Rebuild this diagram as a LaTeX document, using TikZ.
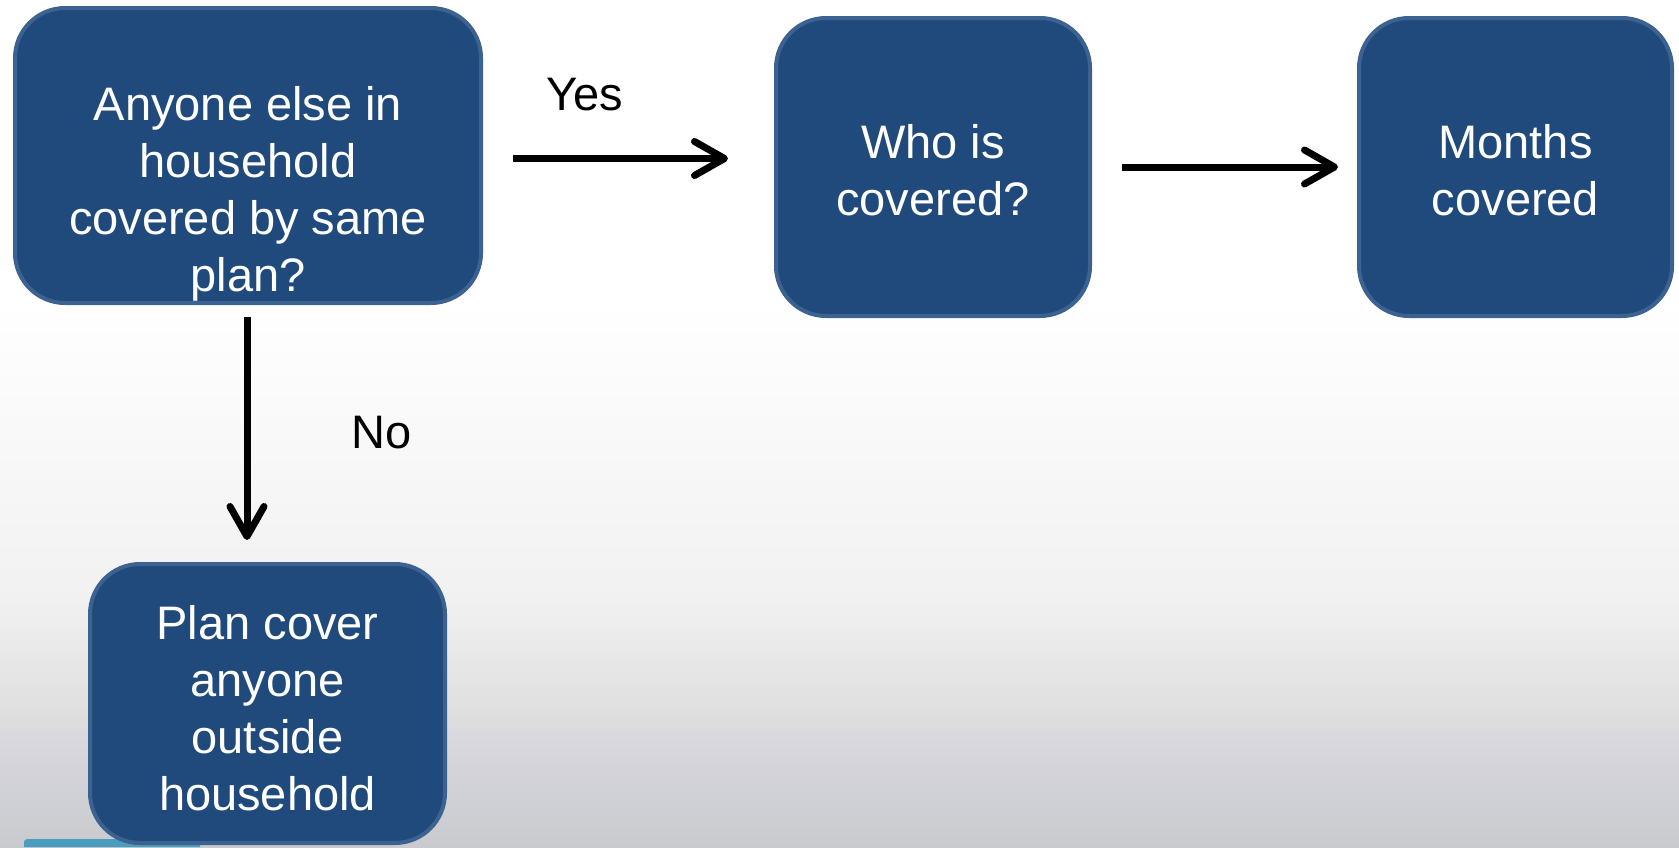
\documentclass[tikz,border=0pt]{standalone}
\usepackage{fontspec}
\setmainfont{Liberation Sans}
\usetikzlibrary{arrows.meta}
\definecolor{boxfill}{HTML}{214A7C}
\definecolor{boxline}{HTML}{3C6291}
\definecolor{bgA}{HTML}{F1F1F1}
\definecolor{bgB}{HTML}{DCDCDC}
\definecolor{bgC}{HTML}{D9D9DF}
\definecolor{bgD}{HTML}{C9CACE}
\definecolor{teal}{HTML}{4B9DBD}
\tikzset{
  flowbox/.style={draw=boxline, fill=boxfill, line width=4pt, rounded corners=50pt,
    inner sep=0pt},
  boxtext/.style={text=white, font=\fontsize{47}{57}\selectfont, align=center, inner sep=0pt},
  lbl/.style={text=black, font=\fontsize{47}{57}\selectfont, inner sep=0pt, anchor=base},
  arr/.style={line width=7pt, -{Straight Barb[length=30pt, width=34pt, line cap=round, line join=round]}}
}
\begin{document}
\begin{tikzpicture}[x=1pt,y=-1pt]
\useasboundingbox (0,0) rectangle (1679,847);
% background
\fill[white] (0,0) rectangle (1679,300);
\shade[top color=white, bottom color=bgA] (0,299.5) rectangle (1679,600);
\shade[top color=bgA, bottom color=bgB] (0,599.5) rectangle (1679,730);
\shade[top color=bgC, bottom color=bgD] (0,729.5) rectangle (1679,847);
\fill[teal] (24,847) -- (24,842) to[out=90,in=180] (32,839) -- (200,839) -- (200,847) -- cycle;
% boxes
\node[flowbox, minimum width=466pt, minimum height=295pt] (b1) at (248,155.5) {};
\node[flowbox, minimum width=314pt, minimum height=298pt] (b2) at (933,167) {};
\node[flowbox, minimum width=313pt, minimum height=298pt] (b3) at (1515.5,167) {};
\node[flowbox, minimum width=355pt, minimum height=279pt] (b4) at (267.5,703.5) {};
% texts
\node[boxtext] (t1) at (248,194.1) {\strut Anyone else in\\household\\covered by same\\plan?\strut};
\node[boxtext] (t2) at (933,175.1) {\strut Who is\\covered?\strut};
\node[boxtext] (t3) at (1515.5,175.1) {\strut Months\\covered\strut};
\node[boxtext] (t4) at (267.5,713.1) {\strut Plan cover\\anyone\\outside\\household\strut};
% connectors
\coordinate (yA) at (513,158.5);
\coordinate (yB) at (728,158.5);
\coordinate (mA) at (1122,167);
\coordinate (mB) at (1338,167);
\coordinate (nA) at (247,317);
\coordinate (nB) at (247,540);
\draw[arr] (yA) -- (yB);
\draw[arr] (mA) -- (mB);
\draw[arr] (nA) -- (nB);
% labels
\node[lbl] (yes) at (585,110) {Yes};
\node[lbl] (no) at (382,448) {No};
\end{tikzpicture}
\end{document}
